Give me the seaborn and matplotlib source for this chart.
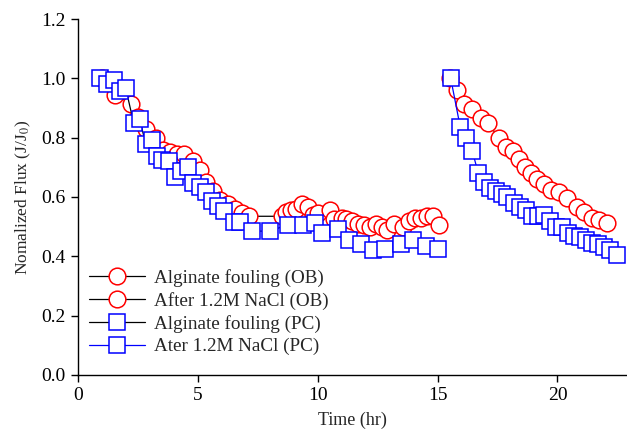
import matplotlib
matplotlib.use('Agg')
import matplotlib.pyplot as plt
import seaborn as sns

# Alginate fouling (OB) - red circles, black line
ob_foul_t = [1.0, 1.3, 1.55, 2.2, 2.5, 2.85, 3.25, 3.55, 3.85, 4.15, 4.45, 4.8, 5.1, 5.35, 5.65,
             5.95, 6.25, 6.55, 6.85, 7.15, 8.5, 8.7, 8.9, 9.1, 9.35, 9.6, 9.8, 10.0, 10.5, 10.7,
             11.0, 11.2, 11.45, 11.7, 11.95, 12.2, 12.45, 12.7, 12.9, 13.2, 13.55, 13.8, 14.05,
             14.3, 14.55, 14.8, 15.05]
ob_foul_y = [1.0, 0.99, 0.945, 0.915, 0.87, 0.83, 0.80, 0.76, 0.75, 0.745, 0.745, 0.72, 0.69,
             0.65, 0.62, 0.59, 0.575, 0.56, 0.545, 0.535, 0.535, 0.55, 0.555, 0.56, 0.575, 0.565,
             0.54, 0.545, 0.555, 0.525, 0.53, 0.525, 0.52, 0.51, 0.505, 0.50, 0.51, 0.50, 0.49,
             0.51, 0.50, 0.52, 0.53, 0.53, 0.535, 0.535, 0.505]

# After 1.2M NaCl (OB)
ob_nacl_t = [15.5, 15.8, 16.1, 16.45, 16.8, 17.1, 17.55, 17.85, 18.15, 18.4, 18.65, 18.9, 19.15,
             19.45, 19.75, 20.05, 20.4, 20.8, 21.1, 21.45, 21.75, 22.05]
ob_nacl_y = [1.0, 0.96, 0.915, 0.895, 0.865, 0.85, 0.80, 0.77, 0.755, 0.728, 0.70, 0.682, 0.66,
             0.645, 0.625, 0.617, 0.597, 0.567, 0.55, 0.53, 0.522, 0.512]

# Alginate fouling (PC) - blue squares, black line
pc_foul_t = [0.92, 1.2, 1.5, 1.75, 2.0, 2.33, 2.58, 2.83, 3.08, 3.3, 3.5, 3.8, 4.05, 4.3, 4.58,
             4.8, 5.08, 5.33, 5.58, 5.83, 6.08, 6.5, 6.75, 7.25, 8.0, 8.75, 9.38, 9.88, 10.2,
             10.83, 11.3, 11.83, 12.3, 12.83, 13.46, 13.96, 14.54, 15.04]
pc_foul_y = [1.0, 0.98, 0.995, 0.957, 0.967, 0.85, 0.863, 0.78, 0.793, 0.738, 0.725, 0.72, 0.667,
             0.688, 0.70, 0.647, 0.634, 0.617, 0.586, 0.57, 0.553, 0.516, 0.516, 0.485, 0.485,
             0.506, 0.506, 0.512, 0.48, 0.492, 0.455, 0.441, 0.421, 0.425, 0.441, 0.455, 0.435,
             0.425]

# Ater 1.2M NaCl (PC)
pc_nacl_t = [15.55, 15.95, 16.2, 16.45, 16.7, 16.95, 17.2, 17.45, 17.7, 17.9, 18.2, 18.45, 18.7,
             18.95, 19.2, 19.45, 19.7, 19.95, 20.2, 20.45, 20.7, 20.95, 21.2, 21.45, 21.7, 21.95,
             22.2, 22.5]
pc_nacl_y = [1.0, 0.835, 0.80, 0.755, 0.68, 0.65, 0.63, 0.62, 0.61, 0.60, 0.58, 0.565, 0.555,
             0.535, 0.535, 0.54, 0.52, 0.50, 0.50, 0.48, 0.47, 0.465, 0.455, 0.445, 0.44, 0.43,
             0.42, 0.405]


def main():
    sns.set_style('ticks')
    plt.rcParams['font.family'] = ['Liberation Serif', 'DejaVu Serif']
    plt.rcParams['mathtext.fontset'] = 'stix'

    fig = plt.figure(figsize=(6.27, 4.32), dpi=100)
    ax = fig.add_axes([0.124, 0.132, 0.876, 0.824])

    common = dict(ax=ax, estimator=None, sort=False, lw=0.9, mew=1.1, mfc='white')
    sns.lineplot(x=ob_foul_t, y=ob_foul_y, color='black', marker='o', mec='red', ms=12,
                 label='Alginate fouling (OB)', **common)
    sns.lineplot(x=ob_nacl_t, y=ob_nacl_y, color='black', marker='o', mec='red', ms=12,
                 label='After 1.2M NaCl (OB)', **common)
    sns.lineplot(x=pc_foul_t, y=pc_foul_y, color='black', marker='s', mec='blue', ms=11.5,
                 label='Alginate fouling (PC)', **common)
    sns.lineplot(x=pc_nacl_t, y=pc_nacl_y, color='blue', marker='s', mec='blue', ms=11.5,
                 label='Ater 1.2M NaCl (PC)', **common)

    ax.set_xlim(0, 22.9)
    ax.set_ylim(0, 1.2)
    ax.set_xticks([0, 5, 10, 15, 20])
    ax.set_yticks([0.0, 0.2, 0.4, 0.6, 0.8, 1.0, 1.2])
    ax.set_yticklabels(['0.0', '0.2', '0.4', '0.6', '0.8', '1.0', '1.2'])
    ax.tick_params(direction='out', length=5, width=1, labelsize=14, colors='black')
    ax.set_xlabel('Time (hr)', fontsize=13, labelpad=6)
    ax.set_ylabel('Nomalized Flux (J/J$_0$)', fontsize=12.5, labelpad=6)
    for s in ['top', 'right']:
        ax.spines[s].set_visible(False)
    for s in ['left', 'bottom']:
        ax.spines[s].set_color('black')
        ax.spines[s].set_linewidth(1)

    ax.legend(loc='lower left', bbox_to_anchor=(0.0, 0.0225), frameon=False, fontsize=13.8,
              handlelength=2.9, labelspacing=0.27, handletextpad=0.5, borderaxespad=0.2)

    fig.savefig('out.png', dpi=100)


if __name__ == '__main__':
    main()
